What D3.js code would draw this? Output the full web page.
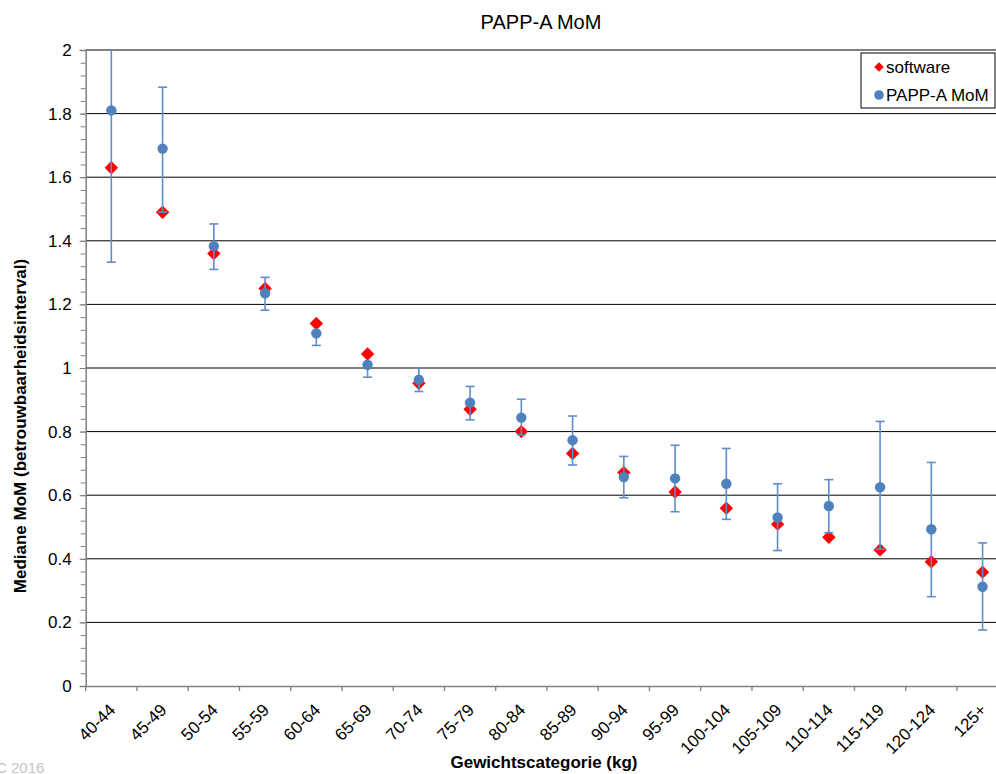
<!DOCTYPE html>
<html>
<head>
<meta charset="utf-8">
<script src="https://cdn.jsdelivr.net/npm/d3@7"></script>
<style>
  body { margin: 0; background: #fff; overflow: hidden; }
  svg { display: block; font-family: "Liberation Sans", Arial, sans-serif; }
</style>
</head>
<body>
<svg id="chart"></svg>
<script>
const categories = ["40-44", "45-49", "50-54", "55-59", "60-64", "65-69", "70-74", "75-79", "80-84",
  "85-89", "90-94", "95-99", "100-104", "105-109", "110-114", "115-119", "120-124", "125+"];
// red diamonds
const software = [1.63, 1.49, 1.36, 1.25, 1.14, 1.044, 0.952, 0.87, 0.80, 0.731, 0.671, 0.61,
  0.559, 0.509, 0.468, 0.428, 0.391, 0.358];
// blue dots + confidence interval
const pappA = [1.81, 1.69, 1.383, 1.235, 1.109, 1.01, 0.963, 0.891, 0.844, 0.773, 0.657, 0.653,
  0.636, 0.53, 0.566, 0.625, 0.493, 0.312];
const ciLow = [1.333, 1.49, 1.31, 1.182, 1.071, 0.971, 0.926, 0.837, 0.79, 0.695, 0.592, 0.548,
  0.524, 0.426, 0.482, 0.43, 0.281, 0.176];
const ciHigh = [2.0, 1.883, 1.453, 1.285, 1.115, 1.015, 1.0, 0.942, 0.902, 0.849, 0.722, 0.757,
  0.747, 0.636, 0.649, 0.832, 0.703, 0.45];
const yTicks = [0, 0.2, 0.4, 0.6, 0.8, 1, 1.2, 1.4, 1.6, 1.8, 2];

const width = 996;
const height = 774;
const plotLeft = 85.7, plotRight = 1008.2, plotTop = 50, plotBottom = 686;

const svg = d3.select("#chart").attr("width", width).attr("height", height);

const x = d3.scaleBand().domain(categories).range([plotLeft, plotRight]).padding(0);
const y = d3.scaleLinear().domain([0, 2]).range([plotBottom, plotTop]);

// gridlines
svg.append("g")
  .selectAll("line")
  .data(yTicks.filter(d => d > 0))
  .enter()
  .append("line")
  .attr("x1", plotLeft)
  .attr("x2", width)
  .attr("y1", d => y(d))
  .attr("y2", d => y(d))
  .attr("stroke", "#000")
  .attr("stroke-width", 1);

// y axis with minor ticks
const yMinor = d3.range(0, 2.0001, 0.04);
svg.append("g")
  .attr("transform", "translate(" + plotLeft + ",0)")
  .call(d3.axisLeft(y).tickValues(yMinor).tickSize(5).tickFormat(""))
  .call(g => g.select(".domain").remove())
  .call(g => g.selectAll("line").attr("stroke", "#7f7f7f"));

const yAxis = svg.append("g")
  .attr("transform", "translate(" + plotLeft + ",0)")
  .call(d3.axisLeft(y).tickValues(yTicks).tickSize(6).tickPadding(8).tickFormat(d => String(+d.toFixed(1))));
yAxis.select(".domain").attr("stroke", "#7f7f7f").attr("stroke-width", 1.5);
yAxis.selectAll("line").attr("stroke", "#7f7f7f");
yAxis.selectAll("text").attr("font-size", 17).attr("fill", "#000")
  .attr("font-family", "Liberation Sans, Arial, sans-serif");

// x axis
const xAxis = svg.append("g")
  .attr("transform", "translate(0," + plotBottom + ")")
  .call(d3.axisBottom(x).tickValues([]).tickSizeOuter(0));
xAxis.select(".domain").attr("stroke", "#7f7f7f").attr("stroke-width", 1.5);

svg.append("g")
  .selectAll("line")
  .data(d3.range(categories.length + 1))
  .enter()
  .append("line")
  .attr("x1", i => plotLeft + i * x.step())
  .attr("x2", i => plotLeft + i * x.step())
  .attr("y1", plotBottom)
  .attr("y2", plotBottom + 5)
  .attr("stroke", "#7f7f7f")
  .attr("stroke-width", 1.3);

svg.append("g")
  .selectAll("text")
  .data(categories)
  .enter()
  .append("text")
  .attr("transform", d => "translate(" + (x(d) + x.bandwidth() / 2 + 5) + "," + (plotBottom + 25) + ") rotate(-45)")
  .attr("text-anchor", "end")
  .attr("font-size", 17)
  .text(d => d);

// software diamonds
const diamond = d3.symbol().type(d3.symbolDiamond2).size(115);
svg.append("g")
  .selectAll("path")
  .data(categories)
  .enter()
  .append("path")
  .attr("d", diamond)
  .attr("transform", (d, i) => "translate(" + (x(d) + x.bandwidth() / 2) + "," + y(software[i]) + ")")
  .attr("fill", "#ff0000");

// error bars
const eb = svg.append("g").attr("stroke", "#5f8ccb").attr("stroke-width", 1.6);
categories.forEach((c, i) => {
  const cx = x(c) + x.bandwidth() / 2;
  eb.append("line").attr("x1", cx).attr("x2", cx).attr("y1", y(ciLow[i])).attr("y2", y(ciHigh[i]));
  [ciLow[i], ciHigh[i]].forEach(v => {
    if (v >= 2) return;
    eb.append("line").attr("x1", cx - 4.5).attr("x2", cx + 4.5).attr("y1", y(v)).attr("y2", y(v));
  });
});

// PAPP-A dots
svg.append("g")
  .selectAll("circle")
  .data(categories)
  .enter()
  .append("circle")
  .attr("cx", d => x(d) + x.bandwidth() / 2)
  .attr("cy", (d, i) => y(pappA[i]))
  .attr("r", 5.2)
  .attr("fill", "#4f81bd");

// titles
svg.append("text")
  .attr("x", 541).attr("y", 29)
  .attr("text-anchor", "middle")
  .attr("font-size", 20)
  .text("PAPP-A MoM");

svg.append("text")
  .attr("x", 544).attr("y", 768)
  .attr("text-anchor", "middle")
  .attr("font-size", 17)
  .attr("font-weight", "bold")
  .text("Gewichtscategorie (kg)");

svg.append("text")
  .attr("transform", "translate(26,426) rotate(-90)")
  .attr("text-anchor", "middle")
  .attr("font-size", 17)
  .attr("font-weight", "bold")
  .text("Mediane MoM (betrouwbaarheidsinterval)");

svg.append("text")
  .attr("x", -4).attr("y", 773)
  .attr("font-size", 15)
  .attr("fill", "#c4c4c4")
  .text("C  2016");

// legend
const lg = svg.append("g");
lg.append("rect")
  .attr("x", 861).attr("y", 53)
  .attr("width", 134).attr("height", 55)
  .attr("fill", "#fff")
  .attr("stroke", "#000")
  .attr("stroke-width", 1);
lg.append("path")
  .attr("d", d3.symbol().type(d3.symbolDiamond2).size(60))
  .attr("transform", "translate(879,67)")
  .attr("fill", "#ff0000");
lg.append("circle").attr("cx", 879).attr("cy", 95).attr("r", 4.8).attr("fill", "#4f81bd");
lg.append("text").attr("x", 886).attr("y", 73).attr("font-size", 17).text("software");
lg.append("text").attr("x", 886).attr("y", 101).attr("font-size", 17).text("PAPP-A MoM");
</script>
</body>
</html>
